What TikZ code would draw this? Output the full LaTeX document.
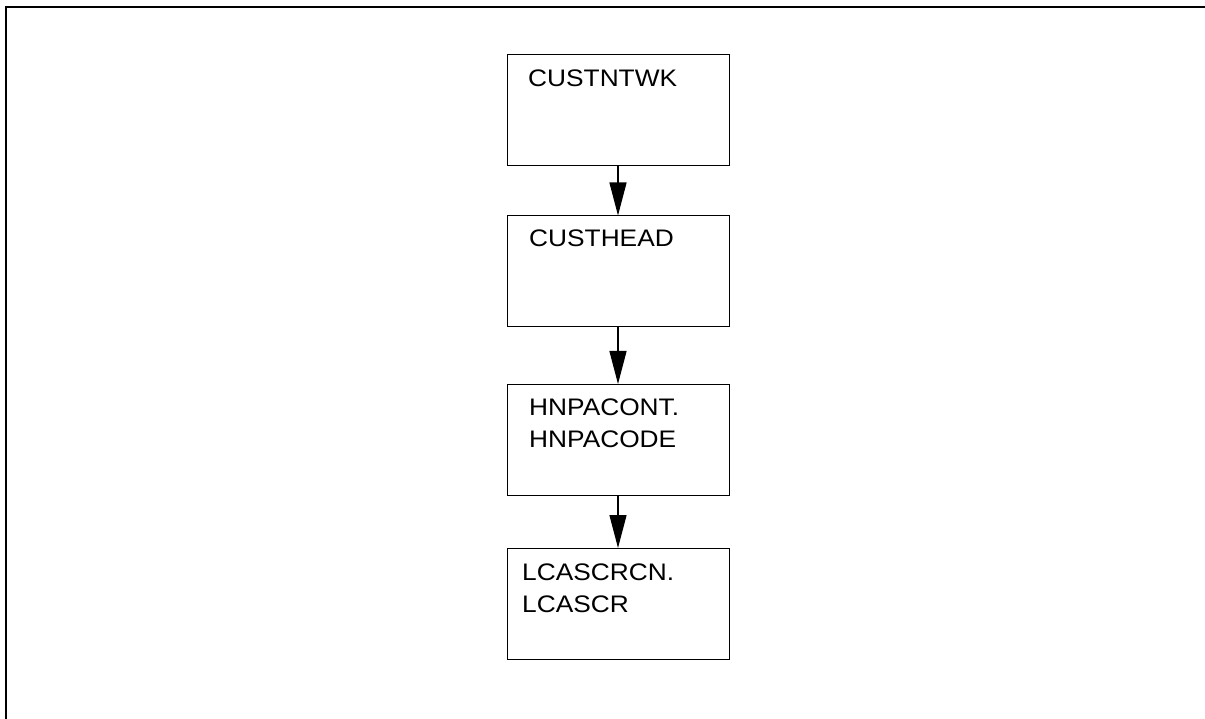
\documentclass[tikz,border=0pt]{standalone}
\usepackage{fontspec}
\setmainfont{Liberation Sans}[FakeStretch=1.1]
\usetikzlibrary{arrows.meta}
\begin{document}
\begin{tikzpicture}[x=1pt,y=-1pt,
  tablebox/.style={draw,line width=1pt,minimum width=222pt,minimum height=111pt,inner sep=0pt},
  boxtext/.style={anchor=base west,inner sep=0pt,align=left,
    font=\fontsize{23.9}{32}\selectfont},
  flow/.style={line width=1.3pt,-{Triangle[width=17pt,length=33pt]}}]
  \useasboundingbox (0,0) rectangle (1205,719);
  % frame lines along the top and left
  \draw[line width=1.3pt] (6,719) -- (6,7) -- (1205,7);
  % table boxes
  \node[tablebox] (b1) at (618,110) {};
  \node[tablebox] (b2) at (618,271.5) {};
  \node[tablebox] (b3) at (618,440) {};
  \node[tablebox] (b4) at (618,604) {};
  % box labels (base anchor sits on the last line)
  \node[boxtext] (t1) at (528,87) {CUSTNTWK};
  \node[boxtext] (t2) at (529,247) {CUSTHEAD};
  \node[boxtext] (t3) at (529,447) {HNPACONT.\\HNPACODE};
  \node[boxtext] (t4) at (522,612) {LCASCRCN.\\LCASCR};
  % connectors
  \draw[flow] (b1.south) -- (b2.north);
  \draw[flow] (b2.south) -- (b3.north);
  \draw[flow] (b3.south) -- (b4.north);
\end{tikzpicture}
\end{document}
